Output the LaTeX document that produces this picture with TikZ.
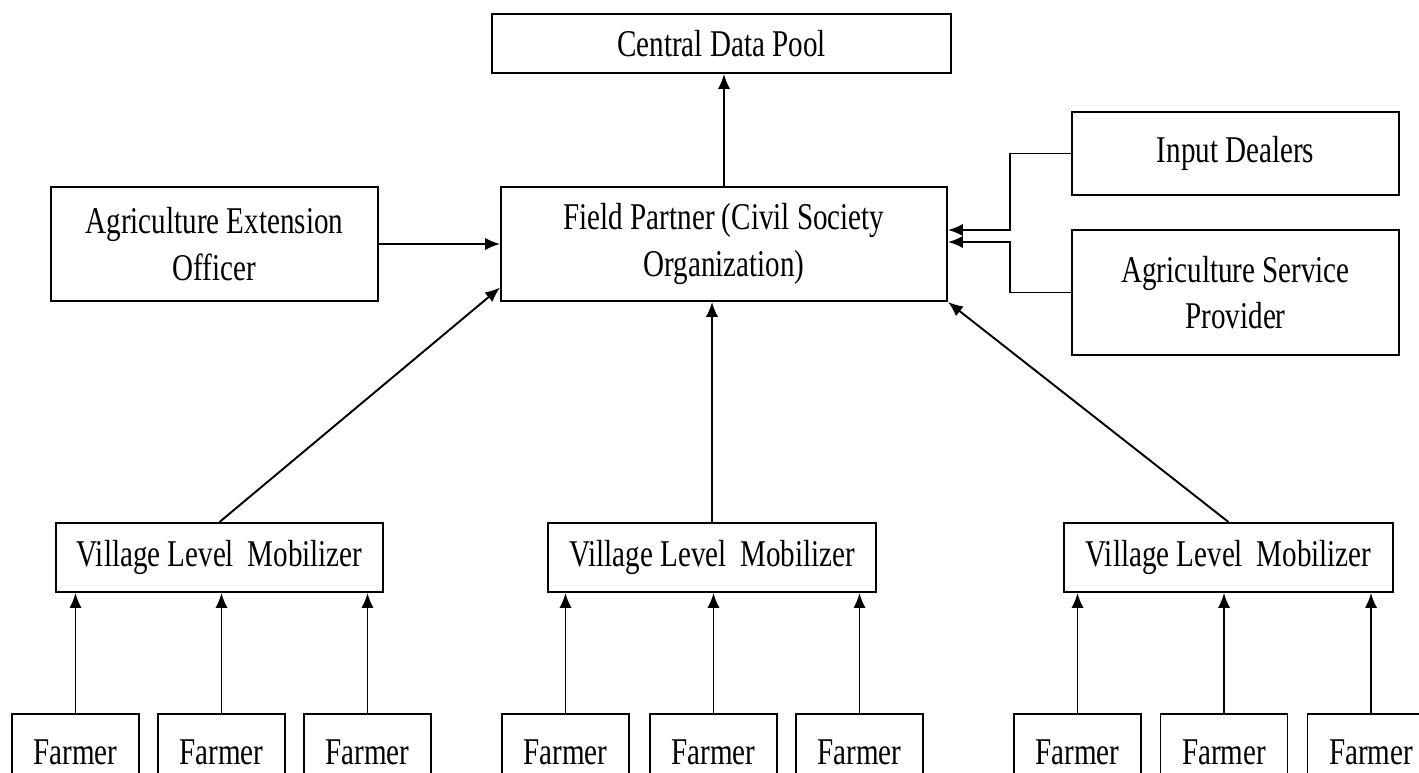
\documentclass[tikz,border=0pt]{standalone}
\usepackage{fontspec}
\setmainfont[FakeStretch=0.77]{Liberation Serif}
\usetikzlibrary{arrows.meta}

\begin{document}
\begin{tikzpicture}
[x=0.02cm,y=-0.02cm,
 bx/.style={draw,line width=1.1pt,inner sep=0pt,align=center,font=\fontsize{21.5}{26.6}\selectfont},
 sz/.style 2 args={minimum width=#1*0.02cm,minimum height=#2*0.02cm},
 ar/.style={-{Latex[length=8.5pt,width=7pt]},line width=1.1pt}]
\useasboundingbox (0,0) rectangle (1419,772);
\clip (0,0) rectangle (1419,772);

\node [bx,sz={459}{59}] at (721.5,43.5) (cdp) {Central Data Pool};
\node [bx,sz={446}{114}] at (724,244) (fp) {Field Partner (Civil Society\\Organization)};
\node [bx,sz={327}{114}] at (214.5,244) (aeo) {Agriculture Extension\\Officer};
\node [bx,sz={327}{83}] at (1235.5,153.5) (ind) {Input Dealers};
\node [bx,sz={327}{125}] at (1235.5,292.5) (asp) {Agriculture Service\\Provider};

\node [bx,sz={327}{69}] at (219.5,557.5) (v1) {Village Level\, Mobilizer};
\node [bx,sz={328}{69}] at (712,557.5) (v2) {Village Level\, Mobilizer};
\node [bx,sz={329}{69}] at (1228.5,557.5) (v3) {Village Level\, Mobilizer};

\node [bx,sz={127}{76}] at (75.5,752) (f11) {Farmer};
\node [bx,sz={127}{76}] at (221.5,752) (f12) {Farmer};
\node [bx,sz={127}{76}] at (367.5,752) (f13) {Farmer};
\node [bx,sz={127}{76}] at (565.5,752) (f21) {Farmer};
\node [bx,sz={127}{76}] at (713.5,752) (f22) {Farmer};
\node [bx,sz={127}{76}] at (859.5,752) (f23) {Farmer};
\node [bx,sz={127}{76}] at (1077.5,752) (f31) {Farmer};
\node [bx,sz={127}{76}] at (1224,752) (f32) {Farmer};
\node [bx,sz={127}{76}] at (1371,752) (f33) {Farmer};

\coordinate (ja) at (1010,230);
\coordinate (jb) at (1010,242);

\draw [ar] (fp.north) -- (fp.north |- cdp.south);
\draw [ar] (aeo.east) -- (fp.west);
\draw [ar] (ind.west) -| (ja) -- (ja -| fp.east);
\draw [ar] (asp.west) -| (jb) -- (jb -| fp.east);

\draw [ar] (v1.north) -- (fp.191);
\draw [ar] (v2.north) -- (v2.north |- fp.south);
\draw [ar] (v3.north) -- (fp.south east);

\foreach \g in {1,2,3}
  \foreach \k in {1,2,3}
    \draw [ar] (f\g\k.north) -- (f\g\k.north |- v\g.south);
\end{tikzpicture}
\end{document}
